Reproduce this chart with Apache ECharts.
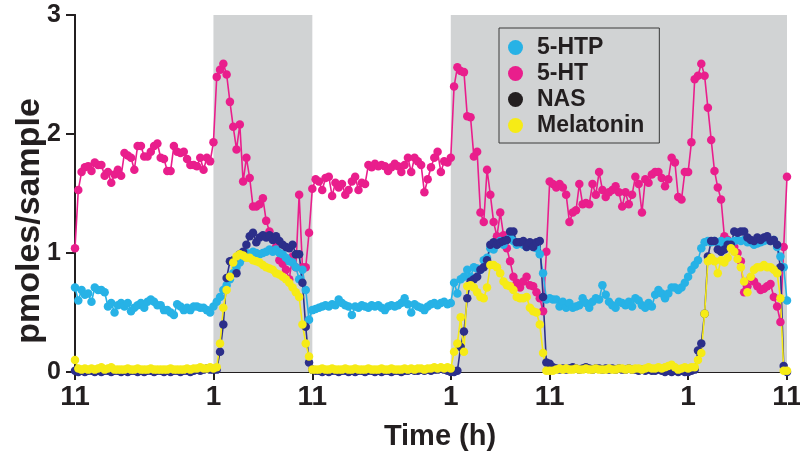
<!DOCTYPE html>
<html>
<head>
<meta charset="utf-8">
<title>Indoles over 3 days</title>
<script src="https://cdn.jsdelivr.net/npm/echarts@6/dist/echarts.min.js"></script>
<style>
  html, body { margin: 0; padding: 0; background: #fff; }
  #chart { width: 800px; height: 455px; }
</style>
</head>
<body>
<div id="chart"></div>
<script>
// x axis: hours from the first 11 o'clock sample, labelled by clock time
const tickHours = [0, 14, 24, 38, 48, 62, 72];
const tickLabels = ['11', '1', '11', '1', '11', '1', '11'];
// dark phases (grey bands)
const darkPeriods = [[14, 24], [38, 72]];
// one sample every 20 min
const sampleStep = 1 / 3;

const htp = [
  0.71, 0.60, 0.69, 0.65, 0.66, 0.59, 0.71, 0.69, 0.69, 0.67,
  0.55, 0.58, 0.50, 0.56, 0.58, 0.55, 0.58, 0.51, 0.54, 0.56,
  0.58, 0.54, 0.59, 0.61, 0.59, 0.56, 0.56, 0.52, 0.52, 0.50,
  0.48, 0.57, 0.55, 0.52, 0.54, 0.52, 0.55, 0.55, 0.54, 0.54,
  0.52, 0.50, 0.55,
  0.59, 0.63, 0.69, 0.73, 0.78, 0.83, 0.88, 0.92, 0.96, 1.00,
  0.99, 1.01, 1.00, 0.99, 1.00, 1.01, 1.03, 1.01, 1.03, 1.00,
  0.99, 0.96, 0.93, 0.92, 0.88, 0.78, 0.86, 0.69, 0.44, 0.52,
  0.53, 0.54, 0.55, 0.56, 0.55, 0.57, 0.56, 0.61, 0.58, 0.56,
  0.55, 0.48, 0.55, 0.54, 0.56, 0.55, 0.54, 0.56, 0.55, 0.56,
  0.54, 0.52, 0.55, 0.56, 0.55, 0.56, 0.58, 0.62, 0.57, 0.50,
  0.57, 0.55, 0.54, 0.52, 0.55, 0.57, 0.58, 0.56, 0.58, 0.59,
  0.57, 0.58,
  0.75, 0.66, 0.78, 0.80, 0.86, 0.80, 0.88, 0.87, 0.86, 0.94,
  0.96, 1.04, 1.03, 1.07, 1.10, 1.07, 1.11, 1.13, 1.10, 1.07,
  1.09, 1.07, 1.05, 1.07, 1.05, 1.04, 0.99, 0.83, 0.61, 0.62,
  0.61, 0.61, 0.55, 0.59, 0.54, 0.58, 0.54, 0.55, 0.56, 0.62,
  0.58, 0.54, 0.59, 0.62, 0.61, 0.73, 0.65, 0.59, 0.56, 0.54,
  0.59, 0.58, 0.56, 0.59, 0.55, 0.62, 0.60, 0.56, 0.54, 0.58,
  0.55, 0.65, 0.69, 0.66, 0.62, 0.66, 0.71, 0.71, 0.69, 0.71,
  0.75, 0.80,
  0.86, 0.90, 0.94, 1.04, 1.09, 1.10, 1.09, 1.10, 1.09, 1.10,
  1.07, 1.10, 1.09, 1.10, 1.11, 1.10, 1.11, 1.09, 1.09, 1.07,
  1.08, 1.09, 1.10, 1.11, 1.10, 1.11, 1.05, 0.97, 0.88, 0.60
];

const ht = [
  1.04, 1.53, 1.68, 1.72, 1.73, 1.69, 1.76, 1.74, 1.74, 1.65,
  1.68, 1.59, 1.66, 1.70, 1.65, 1.84, 1.82, 1.80, 1.70, 1.90,
  1.90, 1.81, 1.81, 1.85, 1.90, 1.92, 1.80, 1.79, 1.69, 1.69,
  1.90, 1.85, 1.84, 1.85, 1.79, 1.74, 1.74, 1.73, 1.80, 1.70,
  1.80, 1.77,
  1.93, 2.48, 2.54, 2.59, 2.50, 2.27, 2.06, 1.87, 2.08, 1.60,
  1.80, 1.63, 1.39, 1.39, 1.41, 1.46, 1.27, 1.18, 1.12, 1.05,
  0.94, 0.91, 0.86, 0.78, 0.97, 0.88, 1.49, 0.88, 0.88, 1.17,
  1.54,
  1.62, 1.60, 1.53, 1.63, 1.64, 1.48, 1.59, 1.55, 1.58, 1.49,
  1.53, 1.60, 1.64, 1.53, 1.59, 1.58, 1.74, 1.72, 1.75, 1.73,
  1.74, 1.73, 1.69, 1.72, 1.75, 1.73, 1.68, 1.74, 1.80, 1.68,
  1.80, 1.77, 1.74, 1.51, 1.62, 1.72, 1.80, 1.85, 1.68, 1.77,
  1.76, 1.80,
  2.40, 2.56, 2.53, 2.52, 2.15, 2.14, 1.81, 1.85, 1.34, 1.26,
  1.70, 1.49, 1.26, 1.14, 1.34, 1.15, 1.04, 0.93, 0.80, 0.75,
  0.71, 0.76, 0.80, 0.73, 0.72, 0.67, 0.62, 0.51, 1.01, 1.60,
  1.58, 1.55, 1.58, 1.55, 1.49, 1.26, 1.34, 1.36, 1.58, 1.41,
  1.42, 1.41, 1.58, 1.49, 1.68, 1.53, 1.47, 1.51, 1.53, 1.56,
  1.51, 1.39, 1.51, 1.41, 1.49, 1.64, 1.58, 1.34, 1.62, 1.59,
  1.66, 1.68, 1.68, 1.63, 1.56, 1.62, 1.80, 1.76, 1.47, 1.45,
  1.68, 1.68,
  1.93, 2.46, 2.49, 2.59, 2.49, 2.22, 1.95, 1.69, 1.55, 1.45,
  1.14, 1.11, 1.07, 1.05, 1.00, 0.93, 0.67, 0.72, 0.79, 0.76,
  0.72, 0.69, 0.70, 0.72, 0.74, 0.63, 0.55, 0.42, 1.05, 1.64
];

const nas = [
  0.01, 0.00, 0.01, 0.00, 0.01, 0.01, 0.00, 0.01, 0.00, 0.01,
  0.01, 0.00, 0.01, 0.01, 0.00, 0.01, 0.00, 0.01, 0.01, 0.00,
  0.01, 0.00, 0.01, 0.01, 0.00, 0.01, 0.01, 0.00, 0.01, 0.00,
  0.01, 0.01, 0.00, 0.01, 0.01, 0.00, 0.01, 0.02, 0.01, 0.02,
  0.03, 0.02,
  0.02, 0.02, 0.17, 0.40, 0.79, 0.93, 0.94, 0.83, 0.99, 1.01,
  1.07, 1.14, 1.17, 1.09, 1.13, 1.15, 1.13, 1.15, 1.11, 1.14,
  1.10, 1.07, 1.05, 1.04, 1.07, 0.99, 0.99, 0.75, 0.38, 0.08,
  0.02,
  0.01, 0.01, 0.00, 0.01, 0.00, 0.01, 0.01, 0.00, 0.01, 0.01,
  0.00, 0.01, 0.00, 0.01, 0.01, 0.00, 0.01, 0.01, 0.00, 0.01,
  0.00, 0.01, 0.01, 0.00, 0.01, 0.01, 0.00, 0.01, 0.01, 0.02,
  0.01, 0.01, 0.02, 0.01, 0.02, 0.01, 0.02, 0.02, 0.03, 0.02,
  0.01,
  0.00, 0.00, 0.01, 0.21, 0.34, 0.62, 0.76, 0.78, 0.80, 0.86,
  0.88, 0.94, 1.07, 1.09, 1.07, 1.09, 1.10, 1.11, 1.18, 1.18,
  1.09, 1.09, 1.10, 1.05, 1.09, 1.05, 1.09, 1.10, 0.63, 0.08,
  0.07,
  0.04, 0.03, 0.02, 0.03, 0.02, 0.03, 0.04, 0.03, 0.02, 0.03,
  0.04, 0.03, 0.02, 0.03, 0.03, 0.02, 0.03, 0.02, 0.03, 0.02,
  0.03, 0.02, 0.02, 0.03, 0.02, 0.02, 0.01, 0.02, 0.01, 0.02,
  0.01, 0.01, 0.02, 0.01, 0.00, 0.01, 0.00, 0.01, 0.00, 0.01,
  0.00,
  0.00, 0.01, 0.02, 0.18, 0.24, 0.49, 0.97, 1.10, 1.10, 1.03,
  1.01, 1.03, 1.07, 1.07, 1.18, 1.17, 1.18, 1.18, 1.13, 1.11,
  1.10, 1.13, 1.11, 1.13, 1.14, 1.10, 1.11, 1.07, 0.88, 0.05,
  0.00
];

const melatonin = [
  0.10, 0.03, 0.02, 0.03, 0.02, 0.03, 0.02, 0.03, 0.04, 0.02,
  0.03, 0.04, 0.02, 0.02, 0.02, 0.02, 0.03, 0.02, 0.02, 0.03,
  0.02, 0.02, 0.02, 0.03, 0.02, 0.02, 0.02, 0.02, 0.02, 0.03,
  0.02, 0.02, 0.02, 0.02, 0.03, 0.02, 0.03, 0.03, 0.04, 0.03,
  0.03, 0.04,
  0.03, 0.04, 0.24, 0.54, 0.69, 0.80, 0.92, 0.97, 0.99, 0.98,
  0.96, 0.96, 0.94, 0.93, 0.92, 0.90, 0.88, 0.87, 0.86, 0.83,
  0.82, 0.80, 0.78, 0.75, 0.71, 0.67, 0.63, 0.40, 0.24, 0.13,
  0.02,
  0.02, 0.02, 0.03, 0.02, 0.02, 0.03, 0.02, 0.02, 0.02, 0.03,
  0.02, 0.02, 0.03, 0.02, 0.02, 0.02, 0.03, 0.02, 0.02, 0.02,
  0.03, 0.02, 0.02, 0.03, 0.02, 0.02, 0.02, 0.03, 0.02, 0.03,
  0.02, 0.03, 0.03, 0.02, 0.03, 0.03, 0.04, 0.03, 0.04, 0.03,
  0.04,
  0.03, 0.17, 0.24, 0.46, 0.17, 0.72, 0.73, 0.71, 0.67, 0.63,
  0.62, 0.71, 0.90, 0.90, 0.88, 0.83, 0.76, 0.73, 0.72, 0.69,
  0.63, 0.62, 0.62, 0.63, 0.54, 0.51, 0.50, 0.40, 0.16, 0.01,
  0.01,
  0.01, 0.02, 0.03, 0.02, 0.03, 0.02, 0.02, 0.03, 0.02, 0.02,
  0.03, 0.02, 0.02, 0.03, 0.02, 0.02, 0.02, 0.03, 0.02, 0.02,
  0.03, 0.03, 0.02, 0.03, 0.02, 0.03, 0.03, 0.02, 0.03, 0.04,
  0.03, 0.03, 0.04, 0.03, 0.04, 0.05, 0.06, 0.04, 0.02, 0.03,
  0.04,
  0.03, 0.04, 0.04, 0.10, 0.16, 0.49, 0.93, 0.96, 0.93, 0.83,
  0.94, 0.92, 0.96, 1.04, 1.01, 0.95, 0.88, 0.76, 0.67, 0.80,
  0.86, 0.88, 0.88, 0.90, 0.88, 0.88, 0.86, 0.83, 0.62, 0.01,
  0.01
];

const colors = {
  '5-HTP': '#27b2e6',
  '5-HT': '#e91e8c',
  'NAS': '#2c2f8a',
  'Melatonin': '#f6eb16'
};
const ink = '#231f20';
const font = "'Liberation Sans', Arial, Helvetica, sans-serif";
const narrowFont = "'Liberation Sans Narrow', 'Arial Narrow', 'Liberation Sans', Arial, sans-serif";

const times = ht.map((_, i) => i * sampleStep);
const pairs = vals => vals.map((v, i) => [times[i], v]);

const lineSeries = (name, vals) => ({
  name: name,
  type: 'line',
  data: pairs(vals),
  symbol: 'circle',
  symbolSize: 8.5,
  showAllSymbol: true,
  lineStyle: { color: colors[name], width: 1.6 },
  itemStyle: { color: colors[name] },
  emphasis: { disabled: true }
});

const chart = echarts.init(document.getElementById('chart'));

const option = {
  animation: false,
  // fixed plot box; don't let ECharts shrink it to keep the end labels inside
  grid: { left: 75, right: 13, top: 15, bottom: 83, outerBoundsMode: 'none' },
  // axis titles sit a little off-centre in the original, so they are placed as text
  graphic: [
    {
      type: 'text', x: 30, y: 221, rotation: Math.PI / 2,
      style: {
        text: 'pmoles/sample', fill: ink, align: 'center', verticalAlign: 'middle',
        font: "bold 34px 'Liberation Sans', Arial, sans-serif"
      }
    },
    {
      type: 'text', x: 440, y: 437,
      style: {
        text: 'Time (h)', fill: ink, align: 'center', verticalAlign: 'middle',
        font: "bold 29px 'Liberation Sans', Arial, sans-serif"
      }
    }
  ],
  legend: {
    orient: 'vertical',
    left: 499,
    top: 28,
    padding: [8, 15, 6, 9],
    itemGap: 3,
    itemWidth: 15,
    itemHeight: 15,
    borderColor: '#3a3a3a',
    borderWidth: 1,
    textStyle: { fontSize: 23, fontWeight: 'bold', color: ink, fontFamily: font, padding: [0, 0, 0, 9] },
    data: [
      { name: '5-HTP', icon: 'circle' },
      { name: '5-HT', icon: 'circle' },
      { name: 'NAS', icon: 'circle', itemStyle: { color: ink } },
      { name: 'Melatonin', icon: 'circle' }
    ]
  },
  xAxis: [
    {
      type: 'value',
      min: 0,
      max: 72,
      axisLine: { lineStyle: { color: ink, width: 2 } },
      axisTick: { customValues: tickHours, length: 8, lineStyle: { color: ink, width: 2 } },
      axisLabel: {
        customValues: tickHours,
        formatter: v => tickLabels[tickHours.indexOf(v)],
        fontSize: 28, fontWeight: 'bold', color: ink, fontFamily: narrowFont, margin: 11
      },
      splitLine: { show: false }
    },
    {
      type: 'value', position: 'top', min: 0, max: 72,
      axisLine: { show: true, lineStyle: { color: ink, width: 2 } },
      axisTick: { show: false }, axisLabel: { show: false }, splitLine: { show: false }
    }
  ],
  yAxis: [
    {
      type: 'value',
      min: 0,
      max: 3,
      interval: 1,
      axisLine: { show: true, lineStyle: { color: ink, width: 2 } },
      axisTick: { show: true, length: 9, lineStyle: { color: ink, width: 2 } },
      axisLabel: { fontSize: 25, fontWeight: 'bold', color: ink, fontFamily: font, margin: 14 },
      splitLine: { show: false }
    },
    {
      type: 'value', position: 'right', min: 0, max: 3,
      axisLine: { show: true, lineStyle: { color: ink, width: 2 } },
      axisTick: { show: false }, axisLabel: { show: false }, splitLine: { show: false }
    }
  ],
  series: [
    {
      type: 'line',
      data: [],
      silent: true,
      z: 0,
      markArea: {
        silent: true,
        itemStyle: { color: '#d1d3d4' },
        data: darkPeriods.map(p => [{ xAxis: p[0] }, { xAxis: p[1] }])
      }
    },
    lineSeries('5-HT', ht),
    lineSeries('5-HTP', htp),
    lineSeries('NAS', nas),
    lineSeries('Melatonin', melatonin)
  ]
};

chart.setOption(option);
</script>
</body>
</html>
